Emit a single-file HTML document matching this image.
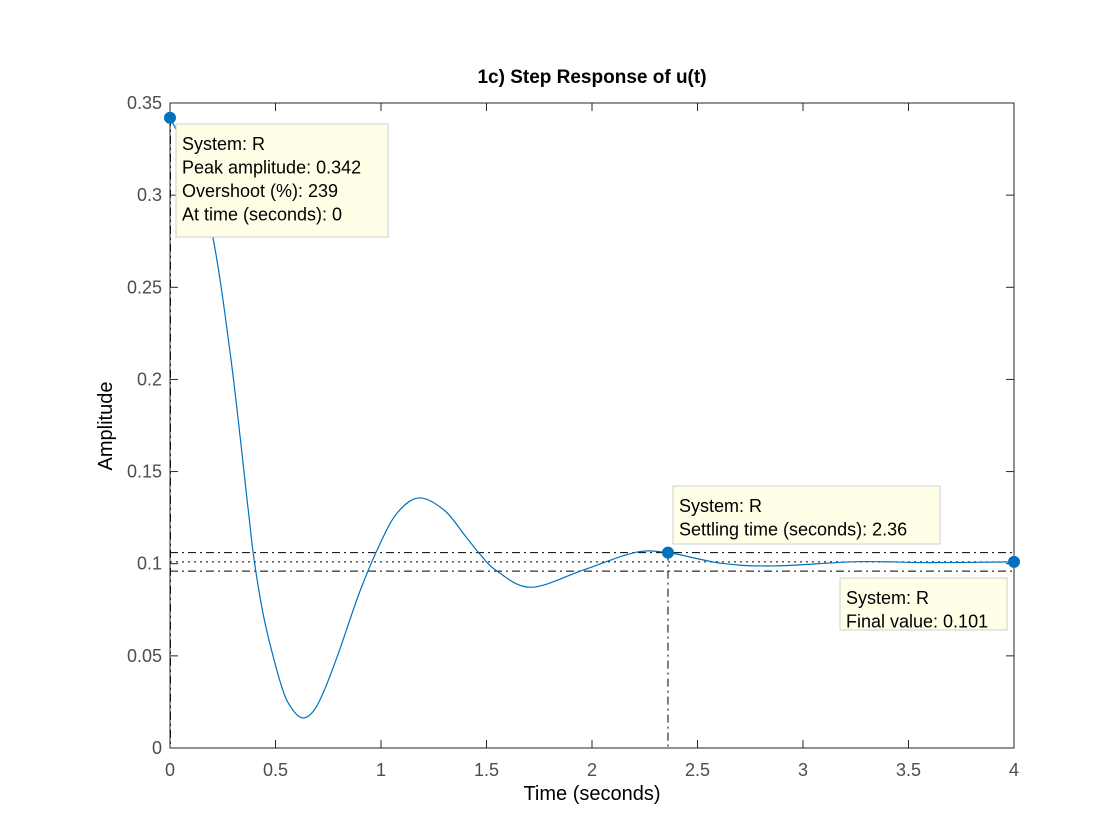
<!DOCTYPE html>
<html><head><meta charset="utf-8"><style>
html,body{margin:0;padding:0;background:#fff;}
svg{display:block;font-family:"Liberation Sans",Arial,sans-serif;}
</style></head><body>
<svg id="chart" width="1120" height="840" viewBox="0 0 1120 840">
<rect x="0" y="0" width="1120" height="840" fill="#fff"/>
<rect x="170" y="103" width="844" height="645" fill="#fff"/>
<g id="grid"></g>
<g id="curve"></g>
<g id="axes"></g>
<g id="tips"></g>
<text x="592" y="83" text-anchor="middle" font-size="19" font-weight="bold" fill="#000">1c) Step Response of u(t)</text>
<text x="592" y="800" text-anchor="middle" font-size="20" fill="#000">Time (seconds)</text>
<text x="112" y="426" text-anchor="middle" font-size="20" fill="#000" transform="rotate(-90 112 426)">Amplitude</text>
</svg>
<script>
const times = [0,0.1,0.2,0.29,0.37,0.40,0.45,0.53,0.58,0.63,0.68,0.73,0.8,0.9,1.0,1.08,1.18,1.3,1.4,1.47,1.55,1.71,1.96,2.2,2.36,2.61,2.86,3.26,3.6,4];
const values = [0.342,0.318,0.279,0.210,0.130,0.101,0.068,0.033,0.021,0.0163,0.020,0.031,0.052,0.085,0.112,0.128,0.1357,0.129,0.115,0.105,0.096,0.0872,0.0966,0.106,0.106,0.1003,0.0988,0.1011,0.1006,0.101];
const xTicks = [0,0.5,1,1.5,2,2.5,3,3.5,4];
const xTickLabels = ["0","0.5","1","1.5","2","2.5","3","3.5","4"];
const yTicks = [0,0.05,0.1,0.15,0.2,0.25,0.3,0.35];
const yTickLabels = ["0","0.05","0.1","0.15","0.2","0.25","0.3","0.35"];
const finalValue = 0.101;
const peakTime = 0, peakValue = 0.342;
const settleTime = 2.36, settleValue = 0.106;

const X0=170,X1=1014,Y0=748,Y1=103;
const sx = t => X0 + (t-0)/(4-0)*(X1-X0);
const sy = v => Y0 - (v-0)/(0.35-0)*(Y0-Y1);
const NS="http://www.w3.org/2000/svg";
function mk(tag, attrs, parent){const e=document.createElementNS(NS,tag);for(const k in attrs)e.setAttribute(k,attrs[k]);parent.appendChild(e);return e;}
const axes=document.getElementById('axes'), grid=document.getElementById('grid'), curve=document.getElementById('curve'), tips=document.getElementById('tips');

const bands=[[finalValue*1.05,"8,4,2,4"],[finalValue,"2,4"],[finalValue*0.95,"8,4,2,4"]];
bands.forEach((b,i)=>{
  const l=mk('line',{x1:X0,x2:X1,y1:sy(b[0]),y2:sy(b[0]),stroke:"#000","stroke-width":1,"stroke-dasharray":b[1]},grid);
  
  
});
const v1=mk('line',{x1:sx(settleTime),x2:sx(settleTime),y1:sy(settleValue),y2:Y0,stroke:"#000","stroke-width":1,"stroke-dasharray":"8,4,2,4"},grid);


const v2=mk('line',{x1:sx(peakTime)+0.5,x2:sx(peakTime)+0.5,y1:sy(peakValue),y2:Y0,stroke:"#000","stroke-width":1,"stroke-dasharray":"8,4,2,4"},grid);



const pts=times.map((t,i)=>[sx(t),sy(values[i])]);
let d=`M${pts[0][0]},${pts[0][1]}`;
for(let i=0;i<pts.length-1;i++){
  const p0=pts[Math.max(0,i-1)],p1=pts[i],p2=pts[i+1],p3=pts[Math.min(pts.length-1,i+2)];
  const c1=[p1[0]+(p2[0]-p0[0])/6,p1[1]+(p2[1]-p0[1])/6];
  const c2=[p2[0]-(p3[0]-p1[0])/6,p2[1]-(p3[1]-p1[1])/6];
  d+=` C${c1[0]},${c1[1]} ${c2[0]},${c2[1]} ${p2[0]},${p2[1]}`;
}
const path=mk('path',{d:d,fill:"none",stroke:"#0072BD","stroke-width":1.2},curve);



const box=mk('rect',{x:X0,y:Y1,width:X1-X0,height:Y0-Y1,fill:"none",stroke:"#262626","stroke-width":1},axes);


xTicks.forEach((t,i)=>{
  const x=sx(t);
  mk('line',{x1:x,x2:x,y1:Y0,y2:Y0-8,stroke:"#262626"},axes);
  mk('line',{x1:x,x2:x,y1:Y1,y2:Y1+8,stroke:"#262626"},axes);
  const tx=mk('text',{x:x,y:Y0+28,"text-anchor":"middle","font-size":18,fill:"#4d4d4d"},axes);
  tx.textContent=xTickLabels[i];
  
  
});
yTicks.forEach((v,i)=>{
  const y=sy(v);
  mk('line',{x1:X0,x2:X0+8,y1:y,y2:y,stroke:"#262626"},axes);
  mk('line',{x1:X1,x2:X1-8,y1:y,y2:y,stroke:"#262626"},axes);
  const tx=mk('text',{x:X0-8,y:y+6,"text-anchor":"end","font-size":18,fill:"#4d4d4d"},axes);
  tx.textContent=yTickLabels[i];
  
  
});

[[peakTime,peakValue,'peak-marker'],[settleTime,settleValue,'settling-marker'],[4,finalValue,'final-value-marker']].forEach(m=>{
  const c=mk('circle',{cx:sx(m[0]),cy:sy(m[1]),r:6,fill:"#0072BD"},tips);
  
  
});

function tip(x,y,w,h,lines,name){
  const g=mk('g',{},tips);
  
  
  mk('rect',{x:x,y:y,width:w,height:h,fill:"#ffffe8",stroke:"#cfcfcf","stroke-width":1},g);
  lines.forEach((s,i)=>{const t=mk('text',{x:x+6,y:y+26+i*23.5,"font-size":18,fill:"#000"},g);t.textContent=s;});
}
tip(176,124,212,113,["System: R","Peak amplitude: 0.342","Overshoot (%): 239","At time (seconds): 0"],'peak-datatip');
tip(673,486,267,58,["System: R","Settling time (seconds): 2.36"],'settling-datatip');
tip(840,578,167,52,["System: R","Final value: 0.101"],'final-value-datatip');
</script>
</body></html>
